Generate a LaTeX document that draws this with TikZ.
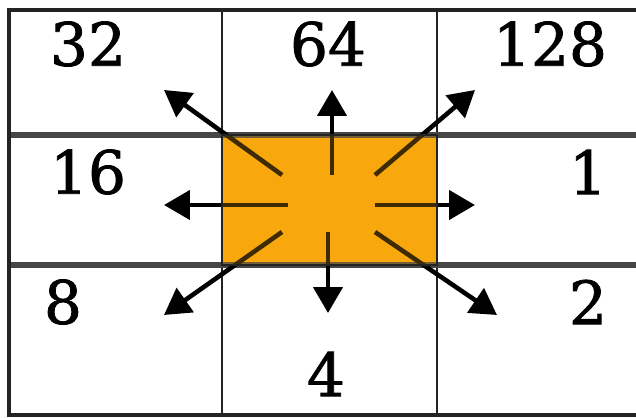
\documentclass[tikz,border=0pt]{standalone}
\usepackage{fontspec}
\setmainfont{DejaVu Serif}
\newfontfamily\digitfont[FakeBold=1.3]{DejaVu Serif}
\usetikzlibrary{arrows.meta}
\definecolor{cellorange}{RGB}{248,168,12}
\definecolor{gridgray}{RGB}{70,70,70}
\definecolor{gridink}{RGB}{35,35,35}

\begin{document}
\begin{tikzpicture}[x=0.02cm, y=-0.02cm,
  every node/.style={font=\fontsize{34}{34}\selectfont\digitfont, inner sep=0pt},
  ray/.style={line width=2.6pt, -{Triangle[length=0.52cm,width=0.58cm]}}]
\useasboundingbox (0,0) rectangle (636,418);
\clip (0,0) rectangle (636,418);
\fill[white] (0,0) rectangle (636,418);
\fill[cellorange] (222,135) rectangle (437,265);
\draw[gridink,line width=1.6pt] (222,10) -- (222,415);
\draw[gridink,line width=1.6pt] (437,10) -- (437,415);
\draw[gridgray,line width=3pt] (9,135) -- (640,135);
\draw[gridgray,line width=3pt] (9,265) -- (640,265);
\draw[gridink,line width=2.5pt] (640,10) -- (9,10) -- (9,415) -- (640,415);
\node (n32) at (88,44) {32};
\node (n64) at (328,44) {64};
\node (n128) at (550,44) {128};
\node (n16) at (88,172) {16};
\node (n1) at (588,172) {1};
\node (n8) at (63,302) {8};
\node (n2) at (588,302) {2};
\node (n4) at (326,374) {4};
\foreach \n/\sx/\sy/\tx/\ty in {ul/282/175/164/90, u/332/175/332/90, ur/375/175/475/90,
    l/288/205/164/205, r/375/205/475/205,
    dl/282/232/164/315, d/328/232/328/313, dr/375/232/497/315} {
  \coordinate (s\n) at (\sx,\sy);
  \coordinate (t\n) at (\tx,\ty);
  \draw[ray] (s\n) -- (t\n);
}
\fill[cellorange,fill opacity=0.25] (222,135) rectangle (437,265);
\draw[gridink,line width=1.6pt] (222,135) rectangle (437,265);
\end{tikzpicture}
\end{document}
